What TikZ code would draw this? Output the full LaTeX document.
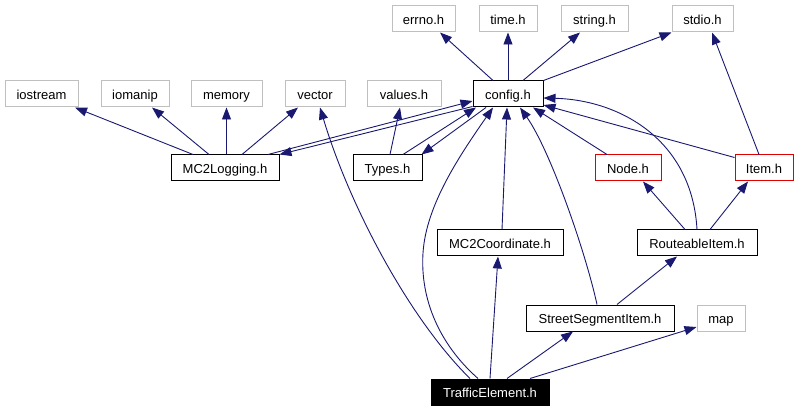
\documentclass[tikz,border=0pt]{standalone}
\usepackage{fontspec}
\setmainfont{Liberation Sans}
\usetikzlibrary{arrows.meta,calc}
\definecolor{edgeblue}{HTML}{191970}
\definecolor{graybox}{HTML}{BFBFBF}
\definecolor{redline}{HTML}{E00000}
\begin{document}
\begin{tikzpicture}[x=1pt,y=-1pt,
  box/.style={draw=black, line width=1pt, minimum height=26pt, inner sep=0pt, text height=12.2pt, text depth=1.4pt, font=\fontsize{13}{15}\selectfont},
  sysbox/.style={box, draw=graybox},
  redbox/.style={box, draw=redline},
  rootbox/.style={box, fill=black, text=white},
  dep/.style={draw=edgeblue, line width=0.9pt, -{Triangle[length=12pt,width=9pt]}}]
\useasboundingbox (0,0) rectangle (799,411);
% nodes
\node[sysbox, minimum width=63pt] (errno) at (423.5,19) {errno.h};
\node[sysbox, minimum width=58pt] (time) at (508,19) {time.h};
\node[sysbox, minimum width=67pt] (string) at (594.5,19) {string.h};
\node[sysbox, minimum width=61pt] (stdio) at (702.5,19) {stdio.h};
\node[sysbox, minimum width=73pt] (iostream) at (41.5,94) {iostream};
\node[sysbox, minimum width=68pt] (iomanip) at (135,94) {iomanip};
\node[sysbox, minimum width=71pt] (memory) at (226.5,94) {memory};
\node[sysbox, minimum width=60pt] (vector) at (315,94) {vector};
\node[sysbox, minimum width=74pt] (values) at (404,94) {values.h};
\node[box, minimum width=70pt] (config) at (508,94) {config.h};
\node[box, minimum width=108pt] (mlog) at (225,168) {MC2Logging.h};
\node[box, minimum width=69pt] (types) at (387.5,168) {Types.h};
\node[redbox, minimum width=66pt] (nodeh) at (628,168) {Node.h};
\node[redbox, minimum width=58pt] (item) at (764,168) {Item.h};
\node[box, minimum width=126pt] (mc2c) at (500,243) {MC2Coordinate.h};
\node[box, minimum width=120pt] (ri) at (697,243) {RouteableItem.h};
\node[box, minimum width=148pt] (ssi) at (600,318) {StreetSegmentItem.h};
\node[sysbox, minimum width=48pt] (map) at (721,318) {map};
\node[rootbox, minimum width=118pt] (te) at (490,392) {TrafficElement.h};
% edges
\draw[dep] ($(mlog.north)+(-32,0)$) -- ($(iostream.south)+(33.5,0)$);
\draw[dep] ($(mlog.north)+(-16,0)$) -- ($(iomanip.south)+(17,0)$);
\draw[dep] ($(mlog.north)+(1.5,0)$) -- (memory.south);
\draw[dep] ($(mlog.north)+(17,0)$) -- ($(vector.south)+(-17,0)$);
\draw[dep] ($(mlog.north)+(43,0)$) -- ($(config.west)+(0,7)$);
\draw[dep] ($(config.south west)+(0,-1)$) -- (mlog.north east);
\draw[dep] ($(types.north)+(2.5,0)$) -- ($(values.south)+(-4,0)$);
\draw[dep] ($(types.north)+(15.5,0)$) -- ($(config.south)+(-32,0)$);
\draw[dep] ($(config.south)+(-22,0)$) -- ($(types.north east)+(-1,0)$);
\draw[dep] ($(te.north)+(-20,0)$) .. controls ($(te.north)+(-80,-59)$) and ($(vector.south)+(35,100)$) .. ($(vector.south)+(5,0)$);
\draw[dep] ($(te.north)+(-12,0)$) .. controls (440,345) and (420,300) .. (423,253) .. controls (426,205) and (460,155) .. ($(config.south)+(-15,0)$);
\draw[dep] (te.north) -- ($(mc2c.south)+(-2,0)$);
\draw[dep] ($(te.north)+(17,0)$) -- ($(ssi.south)+(-27,0)$);
\draw[dep] ($(te.north)+(40,0)$) -- ($(map.west)+(0,9)$);
\draw[dep] ($(ssi.north)+(17,0)$) -- ($(ri.south)+(-20,0)$);
\draw[dep] ($(ssi.north)+(-3,0)$) .. controls (585,250) and (550,150) .. ($(config.south)+(12,0)$);
\draw[dep] ($(ri.north)+(-12,0)$) -- ($(nodeh.south)+(15,0)$);
\draw[dep] ($(ri.north)+(13,0)$) -- ($(item.south)+(-16,0)$);
\draw[dep] (ri.north) .. controls (692,140) and (620,100) .. ($(config.east)+(0,4)$);
\draw[dep] ($(item.north west)+(0,3)$) -- ($(config.east)+(0,11)$);
\draw[dep] ($(item.north)+(-5,0)$) -- ($(stdio.south)+(9.5,0)$);
\draw[dep] ($(nodeh.north)+(-21,0)$) -- ($(config.south)+(25,0)$);
\draw[dep] ($(mc2c.north)+(2,0)$) -- ($(config.south)+(-1,0)$);
\draw[dep] ($(config.north)+(-15,0)$) -- ($(errno.south)+(16.5,0)$);
\draw[dep] (config.north) -- (time.south);
\draw[dep] ($(config.north)+(15,0)$) -- ($(string.south)+(-14.5,0)$);
\draw[dep] (config.north east) -- (stdio.south west);
\end{tikzpicture}
\end{document}
